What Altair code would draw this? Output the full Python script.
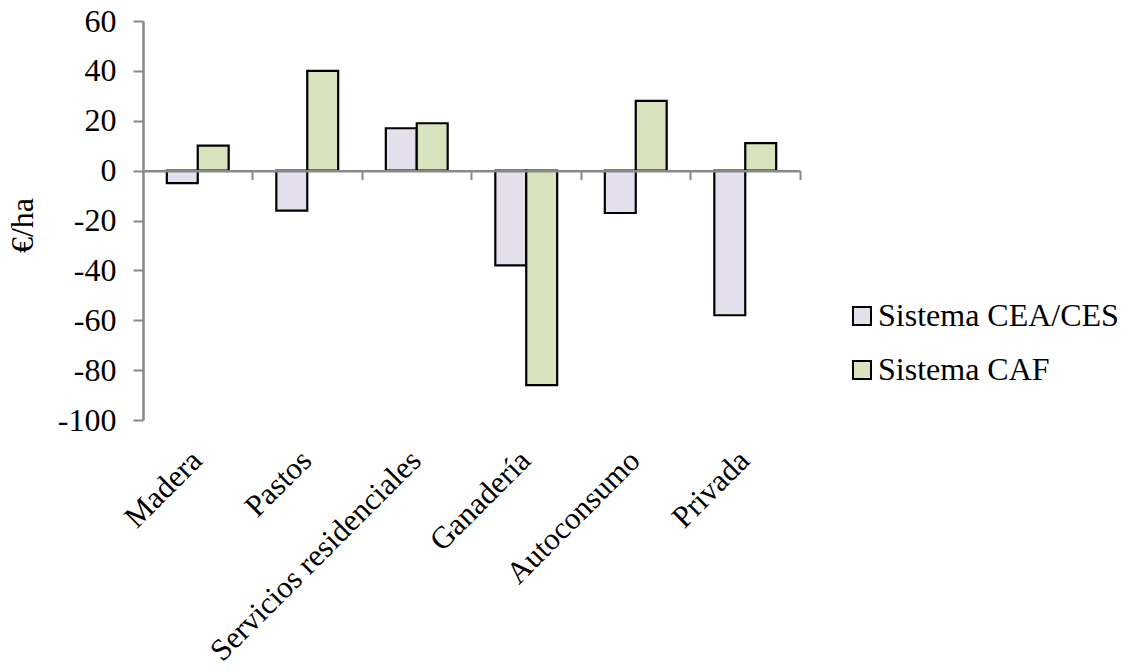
import altair as alt
import pandas as pd

categories = ["Madera", "Pastos", "Servicios residenciales", "Ganadería", "Autoconsumo", "Privada"]
series = ["Sistema CEA/CES", "Sistema CAF"]
cea_values = [-5, -16, 17, -38, -17, -58]
caf_values = [10, 40, 19, -86, 28, 11]
colors = ["#E4DFEC", "#D7E4BD"]
y_ticks = [-100, -80, -60, -40, -20, 0, 20, 40, 60]

rows = []
for c, v in zip(categories, cea_values):
    rows.append({"cat": c, "serie": series[0], "val": v})
for c, v in zip(categories, caf_values):
    rows.append({"cat": c, "serie": series[1], "val": v})
df = pd.DataFrame(rows)

W, H = 657, 399
PAD_L, PAD_T = 143, 21
ymin, ymax = -100, 60
zero_offset = -H * (0 - ymin) / (ymax - ymin)

FONT = "Liberation Serif"
FS = 32
GRAY = "#898989"

xscale = alt.Scale(type="band", domain=categories, paddingInner=0.435, paddingOuter=0.2175)
xscale_plain = alt.Scale(type="band", domain=categories, paddingInner=0, paddingOuter=0)
yscale = alt.Scale(domain=[ymin, ymax], nice=False, zero=False)

bars = alt.Chart(df).mark_bar(stroke="black", strokeWidth=2.2).encode(
    x=alt.X("cat:N", scale=xscale, sort=categories, title=None,
            axis=alt.Axis(domain=False, ticks=False, tickSize=0, labelAngle=-45,
                          labelAlign="right", labelBaseline="top", labelPadding=25,
                          labelOffset=-11,
                          labelFont=FONT, labelFontSize=31, labelColor="black",
                          labelOverlap=False, labelLimit=0)),
    xOffset=alt.XOffset("serie:N", sort=series),
    y=alt.Y("val:Q", scale=yscale, title="€/ha",
            axis=alt.Axis(values=y_ticks, grid=False, domainColor=GRAY, domainWidth=2.5,
                          tickColor=GRAY, tickWidth=2, tickSize=10, labelPadding=17,
                          labelExpr="'' + datum.value",
                          labelFont=FONT, labelFontSize=FS, labelColor="black",
                          titleFont=FONT, titleFontSize=FS, titleFontWeight="normal",
                          titleColor="black", titleX=-121, titleY=204,
                          titleAlign="center", titleBaseline="middle")),
    fill=alt.Fill("serie:N", scale=alt.Scale(domain=series, range=colors),
                  legend=alt.Legend(title=None, orient="none", legendX=703, legendY=279,
                                    symbolType="square", symbolSize=324,
                                    symbolStrokeColor="black", symbolStrokeWidth=2,
                                    labelFont=FONT, labelFontSize=FS, labelColor="black",
                                    labelOffset=0, rowPadding=22, padding=0,
                                    labelLimit=0)),
)

zero_axis = alt.Chart(pd.DataFrame({"cat": categories})).mark_bar(opacity=0).encode(
    x=alt.X("cat:N", scale=xscale_plain, sort=categories, title=None,
            axis=alt.Axis(orient="bottom", offset=zero_offset, labels=False,
                          bandPosition=1, domainColor=GRAY, domainWidth=2.5,
                          tickColor=GRAY, tickWidth=2, tickSize=9, zindex=1)),
)

chart = alt.layer(bars, zero_axis).resolve_scale(x="independent").resolve_axis(
    x="independent").properties(
    width=W, height=H, autosize="none",
    padding={"left": PAD_L, "top": PAD_T, "right": 1130 - PAD_L - W,
             "bottom": 672 - PAD_T - H},
).configure_view(stroke=None)

chart.save("out.html", embed_options={"renderer": "svg", "actions": False})
